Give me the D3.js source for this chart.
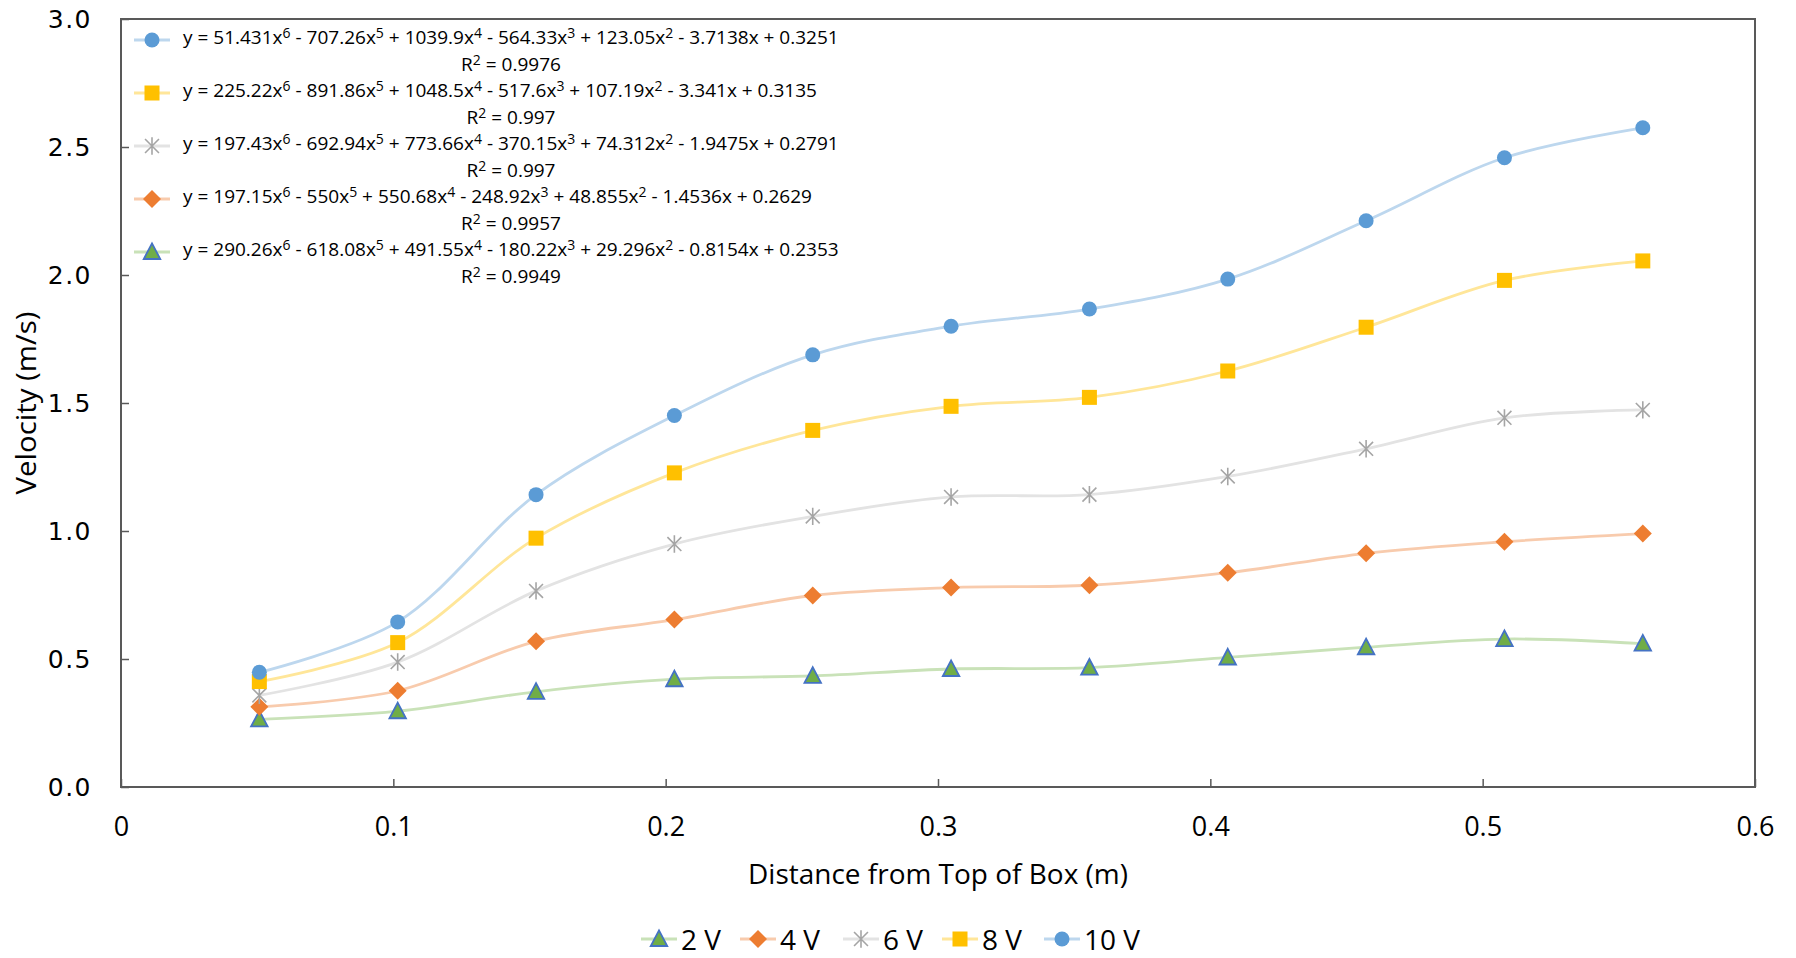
<!DOCTYPE html>
<html>
  <head>
    <meta charset="utf-8">
    <style>
      body { margin: 0; background: #fff; }
      svg text { fill: #000; }
    </style>
    <script src="https://d3js.org/d3.v7.min.js"></script>
    <title>velocity vs distance</title>
  </head>
  <body>
    <div id="chart"></div>
    <script>
    // ---- data
    var distance = [0.0508, 0.1016, 0.1524, 0.2032, 0.254, 0.3048, 0.3556, 0.4064, 0.4572, 0.508, 0.5588]
    var v2  = [0.264, 0.296, 0.372, 0.421, 0.434, 0.461, 0.466, 0.506, 0.546, 0.578, 0.560]
    var v4  = [0.313, 0.376, 0.569, 0.654, 0.748, 0.779, 0.788, 0.837, 0.913, 0.958, 0.990]
    var v6  = [0.358, 0.488, 0.766, 0.949, 1.057, 1.133, 1.142, 1.213, 1.321, 1.442, 1.473]
    var v8  = [0.412, 0.564, 0.972, 1.227, 1.393, 1.487, 1.522, 1.625, 1.796, 1.979, 2.055]
    var v10 = [0.448, 0.645, 1.142, 1.451, 1.688, 1.800, 1.867, 1.984, 2.212, 2.458, 2.575]
    var seriesNames = ["2 V", "4 V", "6 V", "8 V", "10 V"]
    var equations = [
      "y = 290.26x^6 - 618.08x^5 + 491.55x^4 - 180.22x^3 + 29.296x^2 - 0.8154x + 0.2353",
      "y = 197.15x^6 - 550x^5 + 550.68x^4 - 248.92x^3 + 48.855x^2 - 1.4536x + 0.2629",
      "y = 197.43x^6 - 692.94x^5 + 773.66x^4 - 370.15x^3 + 74.312x^2 - 1.9475x + 0.2791",
      "y = 225.22x^6 - 891.86x^5 + 1048.5x^4 - 517.6x^3 + 107.19x^2 - 3.341x + 0.3135",
      "y = 51.431x^6 - 707.26x^5 + 1039.9x^4 - 564.33x^3 + 123.05x^2 - 3.7138x + 0.3251"
    ]
    var rSquared = ["0.9949", "0.9957", "0.997", "0.997", "0.9976"]
    var xTicks = [0, 0.1, 0.2, 0.3, 0.4, 0.5, 0.6]
    var yTicks = [0, 0.5, 1.0, 1.5, 2.0, 2.5, 3.0]

    // ---- styles per series (2V .. 10V)
    var markerColor = ["#70AD47", "#ED7D31", "#A5A5A5", "#FFC000", "#5B9BD5"]
    var lineColor   = ["#C9E2B8", "#F8CBAD", "#E3E3E3", "#FFE699", "#BDD7EE"]
    var markerShape = ["triangle", "diamond", "star", "square", "circle"]
    var allValues = [v2, v4, v6, v8, v10]

    var W = 1796, H = 958
    var margin = {top: 19, right: 41, bottom: 171, left: 121}
    var width = W - margin.left - margin.right,
        height = H - margin.top - margin.bottom

    var svg = d3.select("#chart").append("svg")
      .attr("width", W).attr("height", H)
    var g = svg.append("g")
      .attr("transform", "translate(" + margin.left + "," + margin.top + ")")

    var x = d3.scaleLinear().domain([0, 0.6]).range([0, width])
    var y = d3.scaleLinear().domain([0, 3]).range([height, 0])

    // axes (ticks point inside the plot)
    var yAxis = g.append("g")
      .call(d3.axisLeft(y).tickValues(yTicks).tickFormat(d3.format(".1f"))
        .tickSizeInner(-8).tickSizeOuter(0).tickPadding(29))
    var xAxis = g.append("g").attr("transform", "translate(0," + height + ")")
      .call(d3.axisBottom(x).tickValues(xTicks).tickFormat(d3.format("~g"))
        .tickSizeInner(-8).tickSizeOuter(0).tickPadding(30))
    yAxis.select(".domain").remove()
    xAxis.select(".domain").remove()
    yAxis.selectAll("line").attr("stroke", "#595959").attr("stroke-width", 1.5)
    xAxis.selectAll("line").attr("stroke", "#595959").attr("stroke-width", 1.5)
    yAxis.selectAll("text").style("font-family", "DejaVu Sans").style("font-size", "25px")
      .attr("letter-spacing", "1.5px")
    xAxis.selectAll("text").style("font-family", "Open Sans").style("font-size", "27px")

    // plot frame
    g.append("rect").attr("width", width).attr("height", height)
      .attr("fill", "none").attr("stroke", "#595959").attr("stroke-width", 2)

    // marker drawing
    function drawMarker(sel, shape, i, size) {
      var s = size || 15
      if (shape == "circle") {
        sel.append("circle").attr("r", s / 2).attr("fill", markerColor[i])
      } else if (shape == "square") {
        sel.append("rect").attr("x", -s / 2).attr("y", -s / 2).attr("width", s).attr("height", s)
          .attr("fill", markerColor[i])
      } else if (shape == "diamond") {
        var h = s * 0.6
        sel.append("path").attr("d", "M0," + (-h) + "L" + h + ",0L0," + h + "L" + (-h) + ",0Z")
          .attr("fill", markerColor[i])
      } else if (shape == "triangle") {
        var a = s * 0.55
        sel.append("path").attr("d", "M0," + (-a * 1.05) + "L" + a + "," + (a * 0.85) + "L" + (-a) + "," + (a * 0.85) + "Z")
          .attr("fill", markerColor[i]).attr("stroke", "#4472C4").attr("stroke-width", 1.8)
      } else if (shape == "star") {
        var r = s * 0.58
        var d45 = r * 0.8
        sel.append("path")
          .attr("d", "M0," + (-r) + "L0," + r +
            "M" + (-d45) + "," + (-d45) + "L" + d45 + "," + d45 +
            "M" + (-d45) + "," + d45 + "L" + d45 + "," + (-d45))
          .attr("stroke", markerColor[i]).attr("stroke-width", 1.6).attr("fill", "none")
      }
    }

    var line = d3.line()
      .x(function(d) { return x(d[0]) })
      .y(function(d) { return y(d[1]) })
      .curve(d3.curveCatmullRom.alpha(0.5))

    // lines then markers, 2V first so 10V sits on top
    allValues.forEach(function(vals, i) {
      var pts = distance.map(function(dd, k) { return [dd, vals[k]] })
      g.append("path").datum(pts).attr("d", line)
        .attr("fill", "none").attr("stroke", lineColor[i]).attr("stroke-width", 2.8)
    })
    allValues.forEach(function(vals, i) {
      distance.forEach(function(dd, k) {
        var m = g.append("g").attr("transform", "translate(" + x(dd) + "," + y(vals[k]) + ")")
        drawMarker(m, markerShape[i], i)
      })
    })

    // write a string with ^n superscripts (raised 6px, next plain part comes back down)
    function writeSup(textSel, str) {
      var parts = str.split(/\^(\d)/)
      var back = 0
      parts.forEach(function(p, j) {
        if (j % 2 == 0) {
          if (p == "") return
          textSel.append("tspan").attr("dy", back).text(p)
          back = 0
        } else {
          textSel.append("tspan").attr("dy", -6).style("font-size", "14px").text(p)
          back = 6
        }
      })
    }

    // trendline legend inside the plot (10V on top)
    var eqLeft = 183, eqWidth = 656, rowH = 26.5, firstRow = 37
    var eqScale = null
    for (var r = 0; r < 5; r++) {
      var i = 4 - r
      var cy = firstRow + r * 2 * rowH
      var lg = svg.append("g")
      lg.append("line").attr("x1", 134).attr("x2", 170).attr("y1", cy + 3).attr("y2", cy + 3)
        .attr("stroke", lineColor[i]).attr("stroke-width", 2.8)
      drawMarker(lg.append("g").attr("transform", "translate(152," + (cy + 3) + ")"), markerShape[i], i)

      var t = svg.append("text").attr("y", 7)
        .style("font-family", "Open Sans").style("font-size", "19px")
      writeSup(t, equations[i])
      if (eqScale == null) eqScale = eqWidth / t.node().getComputedTextLength()
      t.attr("transform", "translate(" + eqLeft + "," + cy + ") scale(" + eqScale + ",1)")

      var rt = svg.append("text").attr("y", 7).attr("text-anchor", "middle")
        .style("font-family", "Open Sans").style("font-size", "19px")
      writeSup(rt, "R^2 = " + rSquared[i])
      rt.attr("transform", "translate(" + (eqLeft + eqWidth / 2) + "," + (cy + rowH) + ") scale(" + eqScale + ",1)")
    }

    // axis titles
    var xt = svg.append("text").attr("text-anchor", "middle")
      .style("font-family", "Open Sans").style("font-size", "27px")
      .text("Distance from Top of Box (m)")
    xt.attr("transform", "translate(938,884) scale(" + (380 / xt.node().getComputedTextLength()) + ",1)")

    var yt = svg.append("text").attr("text-anchor", "middle")
      .style("font-family", "Open Sans").style("font-size", "27px")
      .text("Velocity (m/s)")
    yt.attr("transform", "translate(36,403) rotate(-90) scale(" + (183 / yt.node().getComputedTextLength()) + ",1)")

    // bottom legend
    var legX = [659, 758, 861, 960, 1062]
    seriesNames.forEach(function(name, i) {
      var lgb = svg.append("g").attr("transform", "translate(" + legX[i] + ",939)")
      lgb.append("line").attr("x1", -18).attr("x2", 18).attr("stroke", lineColor[i]).attr("stroke-width", 2.8)
      drawMarker(lgb, markerShape[i], i)
      lgb.append("text").attr("x", 22).attr("dominant-baseline", "central")
        .style("font-family", "Open Sans").style("font-size", "28px").text(name)
    })
    </script>
  </body>
</html>
